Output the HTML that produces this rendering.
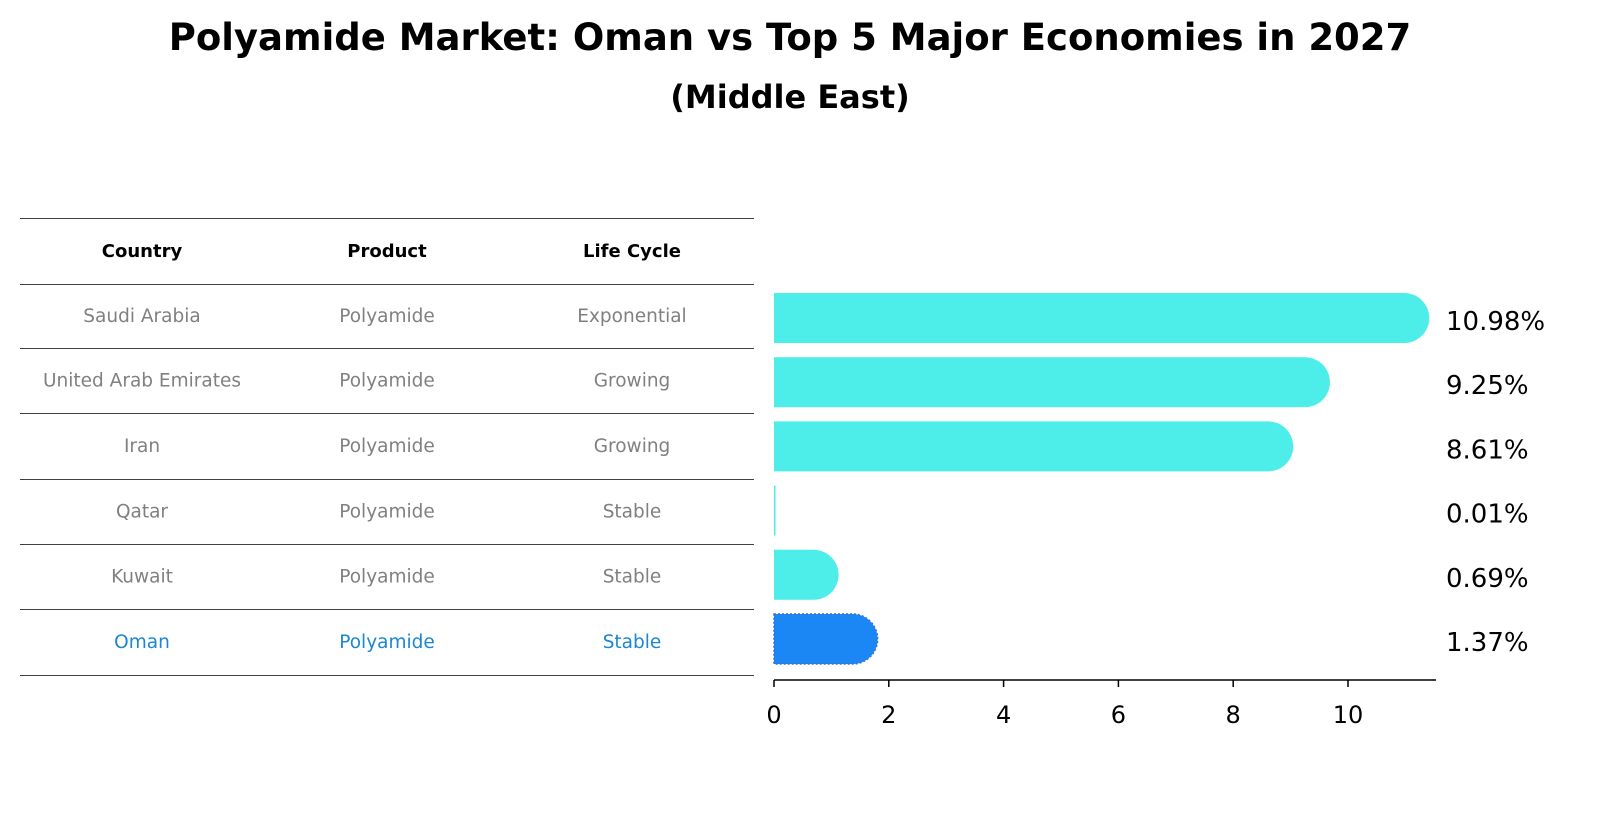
<!DOCTYPE html>
<html><head><meta charset="utf-8"><style>
body{margin:0;background:#fff;width:1604px;height:823px;overflow:hidden;font-family:"Liberation Sans","DejaVu Sans",sans-serif}
</style></head><body>
<svg width="1604" height="823" xmlns="http://www.w3.org/2000/svg" font-family="DejaVu Sans, Liberation Sans, sans-serif">
<text x="790" y="50" text-anchor="middle" font-size="37" font-weight="bold">Polyamide Market: Oman vs Top 5 Major Economies in 2027</text>
<text x="790" y="108" text-anchor="middle" font-size="32" font-weight="bold">(Middle East)</text>
<g id="table"></g>
<g id="bars"></g>
</svg>
<script>
const countries=["Saudi Arabia","United Arab Emirates","Iran","Qatar","Kuwait","Oman"];
const products=["Polyamide","Polyamide","Polyamide","Polyamide","Polyamide","Polyamide"];
const lifeCycles=["Exponential","Growing","Growing","Stable","Stable","Stable"];
const values=[10.98,9.25,8.61,0.01,0.69,1.37];
const valueLabels=["10.98%","9.25%","8.61%","0.01%","0.69%","1.37%"];
const xTicks=[0,2,4,6,8,10];
const NS="http://www.w3.org/2000/svg";
function mk(tag,attrs,parent){const e=document.createElementNS(NS,tag);for(const k in attrs)e.setAttribute(k,attrs[k]);parent.appendChild(e);return e;}
const table=document.getElementById('table'),bars=document.getElementById('bars');
const x0=774,pxPer=57.4;
const xScale=v=>x0+v*pxPer;
const rowY=i=>318+i*64.2;
const lineYs=[218,284,348,413,479,544,609,675];
lineYs.forEach((y,i)=>{const l=mk('line',{x1:20,x2:754,y1:y+0.5,y2:y+0.5,stroke:'#000','stroke-width':0.8},table);

});
const colX=[142,387,632];
["Country","Product","Life Cycle"].forEach((h,j)=>{const t=mk('text',{x:colX[j],y:257,'text-anchor':'middle','font-size':18,'font-weight':'bold'},table);t.textContent=h;

});
countries.forEach((c,i)=>{const col=i===countries.length-1?'#1a87d0':'#808080';
[c,products[i],lifeCycles[i]].forEach((v,j)=>{const t=mk('text',{x:colX[j],y:(lineYs[i+1]+lineYs[i+2])/2+6,'text-anchor':'middle','font-size':18.5,fill:col},table);t.textContent=v;

});});
values.forEach((v,i)=>{const cy=rowY(i),h=50,r=25,xe=xScale(v),last=i===values.length-1;
const fill=last?'#1a87f5':'#4deeea';
let d;
if(v<0.1){d=`M${x0} ${cy-h/2} H${Math.max(xe,x0+1.5)} V${cy+h/2} H${x0} Z`;}
else d=`M${x0} ${cy-h/2} H${xe} A${r} ${r} 0 0 1 ${xe} ${cy+h/2} H${x0} Z`;
const p=mk('path',{d:d,fill:fill},bars);
if(last){p.setAttribute('stroke','#3a6fd8');p.setAttribute('stroke-dasharray','2 2');p.setAttribute('stroke-width','1.5');}


const t=mk('text',{x:1446,y:cy+12,'font-size':26},bars);t.textContent=valueLabels[i];

});
const ax=mk('line',{x1:x0,x2:1436,y1:680,y2:680,stroke:'#000','stroke-width':1.5},bars);


xTicks.forEach(v=>{const x=xScale(v);const tk=mk('line',{x1:x,x2:x,y1:680,y2:687,stroke:'#000','stroke-width':1.5},bars);


const t=mk('text',{x:x,y:723,'text-anchor':'middle','font-size':24},bars);t.textContent=v;

});
</script>
</body></html>
